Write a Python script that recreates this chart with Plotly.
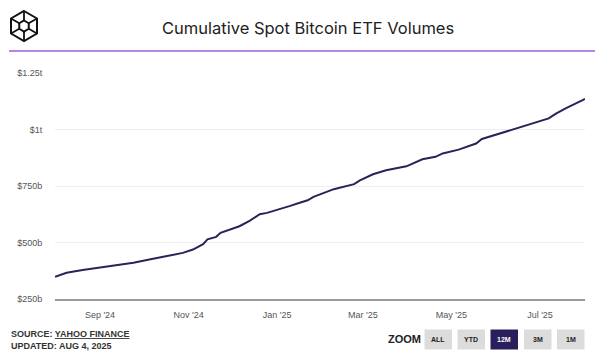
import math
import plotly.graph_objects as go

# ---- data (billions USD, cumulative) ----
dates = ["2024-08-01", "2024-08-09", "2024-08-20", "2024-09-01", "2024-09-12", "2024-09-24",
         "2024-10-05", "2024-10-17", "2024-10-28", "2024-11-04", "2024-11-11", "2024-11-14",
         "2024-11-20", "2024-11-23", "2024-12-01", "2024-12-06", "2024-12-13", "2024-12-20",
         "2024-12-25", "2025-01-05", "2025-01-10", "2025-01-16", "2025-01-22", "2025-01-26",
         "2025-02-09", "2025-02-23", "2025-02-27", "2025-03-08", "2025-03-17", "2025-03-31",
         "2025-04-11", "2025-04-20", "2025-04-25", "2025-05-06", "2025-05-18", "2025-05-22",
         "2025-06-03", "2025-06-14", "2025-06-26", "2025-07-07", "2025-07-12", "2025-07-19",
         "2025-07-30", "2025-08-01"]
volumes = [348, 366, 378, 390, 399, 410,
           425, 440, 454, 469, 493, 514,
           525, 543, 562, 572, 596, 625,
           631, 650, 662, 675, 687, 702,
           736, 758, 775, 802, 820, 837,
           868, 879, 894, 911, 938, 958,
           982, 1005, 1026, 1049, 1070, 1095,
           1129, 1136]

y_tickvals = [250, 500, 750, 1000, 1250]
y_ticktext = ["$250b", "$500b", "$750b", "$1t", "$1.25t"]
x_tickvals = ["2024-09-01", "2024-11-01", "2025-01-01", "2025-03-01", "2025-05-01", "2025-07-01"]
x_ticktext = ["Sep '24", "Nov '24", "Jan '25", "Mar '25", "May '25", "Jul '25"]
zoom_buttons = ["ALL", "YTD", "12M", "3M", "1M"]

W, H = 602, 356
L, R, T, B = 55, 17, 73, 57
PW, PH = W - L - R, H - T - B


def px(x):
    return (x - L) / PW


def py(y):
    return (H - B - y) / PH


fig = go.Figure()
fig.add_trace(go.Scatter(x=dates, y=volumes, mode="lines",
                         line=dict(color="#2b2358", width=2), hoverinfo="skip"))

shapes = []
annotations = []

# purple header rule
shapes.append(dict(type="line", xref="paper", yref="paper", x0=px(9), x1=px(595),
                   y0=py(51), y1=py(51), line=dict(color="#a65ddb", width=1.5)))

# logo (cube-in-cube)
cx, cy, r, ri = 24, 26, 15, 5.5
outer = [(cx + r * math.sin(math.radians(a)), cy - r * math.cos(math.radians(a))) for a in range(0, 360, 60)]
inner = [(cx + ri * math.sin(math.radians(a)), cy - ri * math.cos(math.radians(a))) for a in range(0, 360, 60)]


def path_of(pts):
    return "M " + " L ".join(f"{px(x)},{py(y)}" for x, y in pts) + " Z"


shapes.append(dict(type="path", xref="paper", yref="paper", path=path_of(outer),
                   line=dict(color="#111", width=2)))
shapes.append(dict(type="path", xref="paper", yref="paper", path=path_of(inner),
                   line=dict(color="#111", width=2)))
for (ox, oy), (ix, iy) in zip(outer, inner):
    shapes.append(dict(type="line", xref="paper", yref="paper", x0=px(ox), y0=py(oy),
                       x1=px(ix), y1=py(iy), line=dict(color="#111", width=1.8)))

# title
annotations.append(dict(text="Cumulative Spot Bitcoin ETF Volumes", xref="paper", yref="paper",
                        x=px(308), y=py(28), xanchor="center", yanchor="middle", showarrow=False,
                        font=dict(family="Inter", size=16.5, color="#222")))

# source
annotations.append(dict(text="SOURCE: <u>YAHOO FINANCE</u><br>UPDATED: AUG 4, 2025", xref="paper", yref="paper",
                        x=px(9), y=py(340), xanchor="left", yanchor="middle", showarrow=False, align="left",
                        font=dict(family="Liberation Sans", size=9, color="#333", weight="bold")))

# zoom label + buttons
annotations.append(dict(text="ZOOM", xref="paper", yref="paper", x=px(404), y=py(339),
                        xanchor="center", yanchor="middle", showarrow=False,
                        font=dict(family="Liberation Sans", size=11, color="#222", weight="bold")))
bx0 = [424.5, 457.5, 490.5, 524, 557]
for lab, x0 in zip(zoom_buttons, bx0):
    active = lab == "12M"
    shapes.append(dict(type="rect", xref="paper", yref="paper", x0=px(x0), x1=px(x0 + 27.5),
                       y0=py(349.5), y1=py(329.5), line=dict(width=0),
                       fillcolor="#2a1f5c" if active else "#dcdcdc"))
    annotations.append(dict(text=lab, xref="paper", yref="paper", x=px(x0 + 13.75), y=py(339.5),
                            xanchor="center", yanchor="middle", showarrow=False,
                            font=dict(family="Liberation Sans", size=7, weight="bold",
                                      color="#ffffff" if active else "#222")))

fig.update_layout(
    width=W, height=H, margin=dict(l=L, r=R, t=T, b=B, autoexpand=False),
    paper_bgcolor="white", plot_bgcolor="white", showlegend=False,
    shapes=shapes, annotations=annotations,
    xaxis=dict(range=["2024-08-01", "2025-08-01"], tickvals=x_tickvals, ticktext=x_ticktext,
               showgrid=False, showline=True, linecolor="#9a9a9a", linewidth=1.5,
               ticks="outside", ticklen=6, tickcolor="rgba(0,0,0,0)",
               tickfont=dict(family="Liberation Sans", size=9, color="#555"), zeroline=False),
    yaxis=dict(range=[250, 1250], tickvals=y_tickvals, ticktext=y_ticktext,
               showgrid=True, gridcolor="#eeeeee", gridwidth=1, zeroline=False,
               ticks="outside", ticklen=10, tickcolor="rgba(0,0,0,0)",
               tickfont=dict(family="Liberation Sans", size=9, color="#555")),
)

fig.write_html("out.html", config={"displayModeBar": False},
               post_script="document.body.style.margin='0px';")
